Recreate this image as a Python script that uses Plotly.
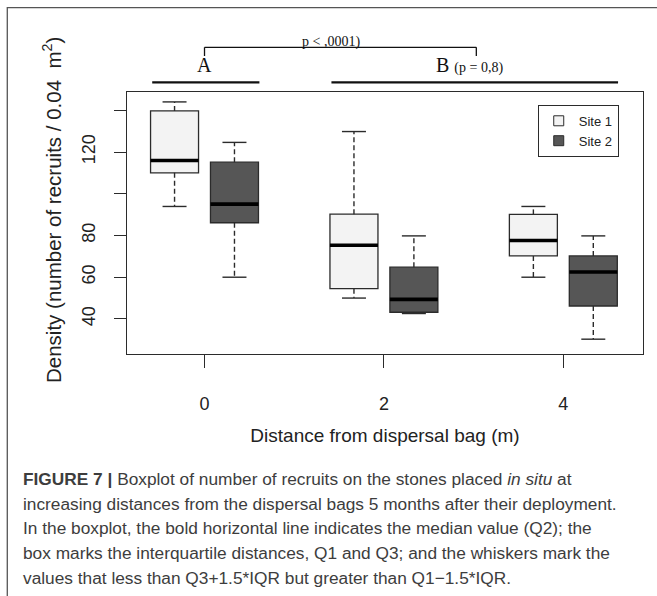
import plotly.graph_objects as go

# ---- data ----
distances = [0, 2, 4]
tick_labels_x = ["0", "2", "4"]
y_label_vals = [40, 60, 80, 120]
y_label_text = ["40", "60", "80", "120"]
y_unlabeled_ticks = [100, 140]

site1_lower = [93.9, 50.0, 60.0]
site1_q1 = [110.0, 54.5, 70.2]
site1_median = [115.9, 75.3, 77.6]
site1_q3 = [139.7, 90.2, 90.1]
site1_upper = [144.0, 129.8, 93.9]

site2_lower = [60.0, 42.6, 30.3]
site2_q1 = [86.1, 43.2, 46.2]
site2_median = [95.0, 49.4, 62.5]
site2_q3 = [115.1, 64.8, 70.2]
site2_upper = [124.6, 79.8, 79.8]

series_names = ["Site 1", "Site 2"]

# ---- styles ----
OFFSET = 0.334
BOX_W = 0.535
CAP_W = BOX_W * 0.5
EDGE = "#2b2b2b"
FILLS = ["#f3f3f3", "#565656"]
AXFONT = "Liberation Sans"
SERIF = "Liberation Serif"
PLOT_TOP, PLOT_BOTTOM = 92.0, 354.0
PLOT_H = PLOT_BOTTOM - PLOT_TOP


def py(pix):
    """pixel row -> paper y"""
    return (PLOT_BOTTOM - pix) / PLOT_H


fig = go.Figure()

sites = [
    (site1_lower, site1_q1, site1_median, site1_q3, site1_upper, -OFFSET),
    (site2_lower, site2_q1, site2_median, site2_q3, site2_upper, OFFSET),
]

for k, (lo, q1, med, q3, up, off) in enumerate(sites):
    xs = [d + off for d in distances]
    fig.add_trace(go.Box(
        x=xs, q1=q1, median=med, q3=q3, lowerfence=q1, upperfence=q3,
        width=BOX_W, whiskerwidth=0, fillcolor=FILLS[k],
        line=dict(color=EDGE, width=1.3), boxpoints=False,
        showlegend=False, hoverinfo="skip",
    ))
    # dashed whiskers
    wx, wy = [], []
    for x, a, b, c, d in zip(xs, lo, q1, q3, up):
        wx += [x, x, None, x, x, None]
        wy += [c, d, None, b, a, None]
    fig.add_trace(go.Scatter(x=wx, y=wy, mode="lines",
                             line=dict(color=EDGE, width=1.4, dash="5px,3px"),
                             showlegend=False, hoverinfo="skip"))
    # caps
    cx, cy = [], []
    for x, a, d in zip(xs, lo, up):
        cx += [x - CAP_W / 2, x + CAP_W / 2, None, x - CAP_W / 2, x + CAP_W / 2, None]
        cy += [d, d, None, a, a, None]
    fig.add_trace(go.Scatter(x=cx, y=cy, mode="lines",
                             line=dict(color=EDGE, width=1.4),
                             showlegend=False, hoverinfo="skip"))
    # medians
    mx, my = [], []
    for x, m in zip(xs, med):
        mx += [x - BOX_W / 2, x + BOX_W / 2, None]
        my += [m, m, None]
    fig.add_trace(go.Scatter(x=mx, y=my, mode="lines",
                             line=dict(color="#000000", width=3.6),
                             showlegend=False, hoverinfo="skip"))
    # legend entry
    fig.add_trace(go.Scatter(x=[None], y=[None], mode="markers", name=series_names[k],
                             marker=dict(symbol="square", size=10, color=FILLS[k],
                                         line=dict(color=EDGE, width=1))))

# ---- decorations above plot ----
shapes = [
    dict(type="line", xref="x", yref="paper", x0=-0.583, x1=0.612, y0=py(82.3), y1=py(82.3),
         line=dict(color="#111", width=2.2)),
    dict(type="line", xref="x", yref="paper", x0=1.415, x1=4.61, y0=py(82.3), y1=py(82.3),
         line=dict(color="#111", width=2.2)),
    dict(type="line", xref="x", yref="paper", x0=0, x1=3.03, y0=py(47.3), y1=py(47.3),
         line=dict(color="#111", width=1.3)),
    dict(type="line", xref="x", yref="paper", x0=0, x1=0, y0=py(47.3), y1=py(56),
         line=dict(color="#111", width=1.3)),
    dict(type="line", xref="x", yref="paper", x0=3.03, x1=3.03, y0=py(47.3), y1=py(56),
         line=dict(color="#111", width=1.3)),
    # outer figure frame (left and top edges visible)
    dict(type="rect", xref="paper", yref="paper", x0=-0.232, x1=1.1, y0=-1.0, y1=py(7.7),
         line=dict(color="#555", width=1.3)),
]

annotations = [
    dict(text="p < ,0001)", xref="x", yref="paper", x=1.415, y=py(42), yanchor="middle",
         showarrow=False, font=dict(family=SERIF, size=14, color="#111")),
    dict(text="A", xref="x", yref="paper", x=0, y=py(65), yanchor="middle", showarrow=False,
         font=dict(family=SERIF, size=20, color="#111")),
    dict(text="B <span style='font-size:14px'>(p = 0,8)</span>", xref="x", yref="paper",
         x=2.56, y=py(65), xanchor="left", yanchor="middle", showarrow=False,
         font=dict(family=SERIF, size=20, color="#111")),
    dict(text="Density (number of recruits / 0.04  m<sup>2</sup>)", xref="paper", yref="paper",
         x=(52 - 127) / 516.0, y=py(210), xanchor="center", yanchor="middle",
         textangle=-90, showarrow=False,
         font=dict(family=AXFONT, size=20.5, color="#222")),
]

caption_lines = [
    "<b>FIGURE 7 |</b> Boxplot of number of recruits on the stones placed <i>in situ</i> at",
    "increasing distances from the dispersal bags 5 months after their deployment.",
    "In the boxplot, the bold horizontal line indicates the median value (Q2); the",
    "box marks the interquartile distances, Q1 and Q3; and the whiskers mark the",
    "values that less than Q3+1.5*IQR but greater than Q1\u22121.5*IQR.",
]
for i, line in enumerate(caption_lines):
    annotations.append(dict(
        text=line, xref="paper", yref="paper", x=(21 - 127) / 516.0, y=py(479 + 24.7 * i),
        xanchor="left", yanchor="middle", showarrow=False,
        font=dict(family="Liberation Sans", size=17.3, color="#3d3d3d"),
    ))

fig.update_layout(
    width=657, height=596,
    margin=dict(l=127, r=14, t=92, b=242, pad=0),
    paper_bgcolor="white", plot_bgcolor="white",
    showlegend=True,
    legend=dict(x=0.796, y=0.951, xanchor="left", yanchor="top",
                bordercolor=EDGE, borderwidth=1, bgcolor="white",
                font=dict(family=AXFONT, size=13, color="#222"), tracegroupgap=0),
    shapes=shapes, annotations=annotations,
    xaxis=dict(range=[-0.864, 4.888], tickvals=distances, ticktext=tick_labels_x,
               ticks="outside", ticklen=13, tickcolor=EDGE, tickwidth=1.2,
               showline=True, linecolor=EDGE, linewidth=1.3, mirror=True,
               showgrid=False, zeroline=False, ticklabelstandoff=20,
               tickfont=dict(family=AXFONT, size=18, color="#222"),
               title=dict(text="Distance from dispersal bag (m)", standoff=15,
                          font=dict(family=AXFONT, size=19, color="#222"))),
    yaxis=dict(range=[23.2, 148.75], tickvals=y_label_vals, ticktext=y_label_text,
               ticks="outside", ticklen=12, tickcolor=EDGE, tickwidth=1.2, tickangle=-90,
               minor=dict(tickvals=y_unlabeled_ticks, ticks="outside", ticklen=12,
                          tickcolor=EDGE, tickwidth=1.2, showgrid=False),
               showline=True, linecolor=EDGE, linewidth=1.3, mirror=True,
               showgrid=False, zeroline=False, ticklabelstandoff=12,
               tickfont=dict(family=AXFONT, size=18, color="#222")),
)

fig.write_html("out.html", config={"displayModeBar": False},
               post_script="document.body.style.margin='0px';")
